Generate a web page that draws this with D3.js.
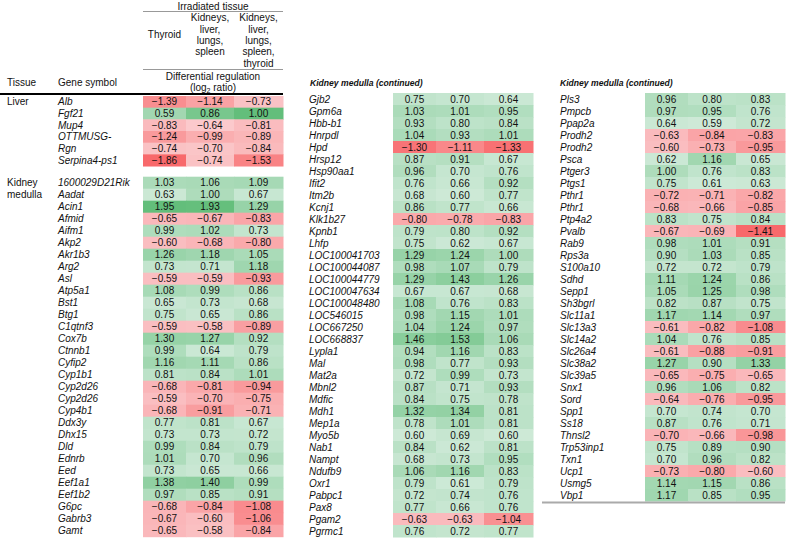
<!DOCTYPE html>
<html><head><meta charset="utf-8">
<script src="https://cdn.jsdelivr.net/npm/d3@7"></script>
<style>
html,body{margin:0;padding:0;background:#fff;}
svg{display:block;font-family:"Liberation Sans",Arial,sans-serif;}
</style></head>
<body><svg id="chart" width="787" height="540"></svg>
<script>
// ---------- DATA ----------
const columnHeaders = [["Thyroid"], ["Kidneys,","liver,","lungs,","spleen"], ["Kidneys,","liver,","lungs,","spleen,","thyroid"]];
const groupHeader = "Irradiated tissue";
const measureHeader = ["Differential regulation", "(log", "2", " ratio)"];

const liverGenes = ["Alb","Fgf21","Mup4","OTTMUSG-","Rgn","Serpina4-ps1"];
const liverValues = [
  [-1.39,-1.14,-0.73],[0.59,0.86,1.00],[-0.83,-0.64,-0.81],
  [-1.24,-0.99,-0.89],[-0.74,-0.70,-0.84],[-1.86,-0.74,-1.53]];

const kidneyGenesA = ["1600029D21Rik","Aadat","Acin1","Afmid","Aifm1","Akp2","Akr1b3","Arg2","Asl","Atp5a1","Bst1","Btg1","C1qtnf3","Cox7b","Ctnnb1","Cyfip2","Cyp1b1","Cyp2d26","Cyp2d26","Cyp4b1","Ddx3y","Dhx15","Dld","Ednrb","Eed","Eef1a1","Eef1b2","G6pc","Gabrb3","Gamt"];
const kidneyValuesA = [
  [1.03,1.06,1.09],[0.63,1.00,0.67],[1.95,1.93,1.29],[-0.65,-0.67,-0.83],[0.99,1.02,0.73],
  [-0.60,-0.68,-0.80],[1.26,1.18,1.05],[0.73,0.71,1.18],[-0.59,-0.59,-0.93],[1.08,0.99,0.86],
  [0.65,0.73,0.68],[0.75,0.65,0.86],[-0.59,-0.58,-0.89],[1.30,1.27,0.92],[0.99,0.64,0.79],
  [1.16,1.11,0.86],[0.81,0.84,1.01],[-0.68,-0.81,-0.94],[-0.59,-0.70,-0.75],[-0.68,-0.91,-0.71],
  [0.77,0.81,0.67],[0.73,0.73,0.72],[0.99,0.84,0.79],[1.01,0.70,0.96],[0.73,0.65,0.66],
  [1.38,1.40,0.99],[0.97,0.85,0.91],[-0.68,-0.84,-1.08],[-0.67,-0.60,-1.06],[-0.65,-0.58,-0.84]];

const kidneyGenesB = ["Gjb2","Gpm6a","Hbb-b1","Hnrpdl","Hpd","Hrsp12","Hsp90aa1","Ifit2","Itm2b","Kcnj1","Klk1b27","Kpnb1","Lhfp","LOC100041703","LOC100044087","LOC100044779","LOC100047634","LOC100048480","LOC546015","LOC667250","LOC668837","Lypla1","Mal","Mat2a","Mbnl2","Mdfic","Mdh1","Mep1a","Myo5b","Nab1","Nampt","Ndufb9","Oxr1","Pabpc1","Pax8","Pgam2","Pgrmc1"];
const kidneyValuesB = [
  [0.75,0.70,0.64],[1.03,1.01,0.95],[0.93,0.80,0.84],[1.04,0.93,1.01],[-1.30,-1.11,-1.33],
  [0.87,0.91,0.67],[0.96,0.70,0.76],[0.76,0.66,0.92],[0.68,0.60,0.77],[0.86,0.77,0.66],
  [-0.80,-0.78,-0.83],[0.79,0.80,0.92],[0.75,0.62,0.67],[1.29,1.24,1.00],[0.98,1.07,0.79],
  [1.29,1.43,1.26],[0.67,0.67,0.68],[1.08,0.76,0.83],[0.98,1.15,1.01],[1.04,1.24,0.97],
  [1.46,1.53,1.06],[0.94,1.16,0.83],[0.98,0.77,0.93],[0.72,0.99,0.73],[0.87,0.71,0.93],
  [0.84,0.75,0.78],[1.32,1.34,0.81],[0.78,1.01,0.81],[0.60,0.69,0.60],[0.84,0.62,0.81],
  [0.68,0.73,0.95],[1.06,1.16,0.83],[0.79,0.61,0.79],[0.72,0.74,0.76],[0.77,0.66,0.76],
  [-0.63,-0.63,-1.04],[0.76,0.72,0.77]];

const kidneyGenesC = ["Pls3","Pmpcb","Ppap2a","Prodh2","Prodh2","Psca","Ptger3","Ptgs1","Pthr1","Pthr1","Ptp4a2","Pvalb","Rab9","Rps3a","S100a10","Sdhd","Sepp1","Sh3bgrl","Slc11a1","Slc13a3","Slc14a2","Slc26a4","Slc38a2","Slc39a5","Snx1","Sord","Spp1","Ss18","Thnsl2","Trp53inp1","Txn1","Ucp1","Usmg5","Vbp1"];
const kidneyValuesC = [
  [0.96,0.80,0.83],[0.97,0.95,0.76],[0.64,0.59,0.72],[-0.63,-0.84,-0.83],[-0.60,-0.73,-0.95],
  [0.62,1.16,0.65],[1.00,0.76,0.83],[0.75,0.61,0.63],[-0.72,-0.71,-0.82],[-0.68,-0.66,-0.85],
  [0.83,0.75,0.84],[-0.67,-0.69,-1.41],[0.98,1.01,0.91],[0.90,1.03,0.85],[0.72,0.72,0.79],
  [1.11,1.24,0.86],[1.05,1.25,0.98],[0.82,0.87,0.75],[1.17,1.14,0.97],[-0.61,-0.82,-1.08],
  [1.04,0.76,0.85],[-0.61,-0.88,-0.91],[1.27,0.90,1.33],[-0.65,-0.75,-0.65],[0.96,1.06,0.82],
  [-0.64,-0.76,-0.95],[0.70,0.74,0.70],[0.87,0.76,0.71],[-0.70,-0.66,-0.98],[0.75,0.89,0.90],
  [0.70,0.96,0.82],[-0.73,-0.80,-0.60],[1.14,1.15,0.86],[1.17,0.85,0.95]];

// ---------- DRAW ----------
const svg = d3.select("#chart");
svg.append("rect").attr("width",787).attr("height",540).attr("fill","#fff");

const RED = "#f8696b", WHITE = "#fcfcff", GREEN = "#63be7b";
function colorScale(values){
  const flat = values.flat();
  return d3.scaleLinear().domain([d3.min(flat),0,d3.max(flat)]).range([RED,WHITE,GREEN]).interpolate(d3.interpolateRgb);
}
const liverColor = colorScale(liverValues);
const kidneyColor = colorScale([kidneyValuesA,kidneyValuesB,kidneyValuesC].flat());

const colX = d3.scaleOrdinal().domain([0,1,2]).range([0,43,91]);
const colW = d3.scaleOrdinal().domain([0,1,2]).range([43,48,49]);
const fmt = d3.format(".2f");

function block(genes, values, geneX, cellX, top, rowH, color){
  const y = d3.scaleBand().domain(d3.range(genes.length)).range([top, top + rowH*genes.length]).padding(0);
  const g = svg.append("g");
  const rows = g.selectAll("g.row").data(genes.map((gname,i)=>({gname,i,vals:values[i]}))).join("g");
  rows.each(function(r){
    const sel = d3.select(this);
    r.vals.forEach((v,j)=>{
      sel.append("rect").attr("x",cellX+colX(j)).attr("y",y(r.i))
        .attr("width",colW(j)+0.5).attr("height",y.bandwidth()+0.5).attr("fill",color(v));
      sel.append("text").attr("x",cellX+colX(j)+colW(j)/2).attr("y",y(r.i)+y.bandwidth()/2+3.6)
        .attr("text-anchor","middle").attr("font-size",10).attr("fill","#111").text(fmt(v).replace("-","-"));
    });
    sel.append("text").attr("x",geneX).attr("y",y(r.i)+y.bandwidth()/2+3.6)
      .attr("font-size",10).attr("font-style","italic").attr("fill","#111").text(r.gname);
  });
  return y;
}

// Left panel
const yLiver = block(liverGenes, liverValues, 58, 143, 96, 11.67, liverColor);
const yKidA = block(kidneyGenesA, kidneyValuesA, 58, 143, 176.7, 12, kidneyColor);
// Middle
block(kidneyGenesB, kidneyValuesB, 309, 393, 93, 12, kidneyColor);
// Right
const yKidC = block(kidneyGenesC, kidneyValuesC, 560, 645, 93, 12, kidneyColor);

// Tissue labels
const tl = (t,x,yy)=>svg.append("text").attr("x",x).attr("y",yy).attr("font-size",10).attr("fill","#111").text(t);
tl("Liver",7,yLiver(0)+yLiver.bandwidth()/2+3.6);
tl("Kidney",7,yKidA(0)+yKidA.bandwidth()/2+3.6);
tl("medulla",7,yKidA(1)+yKidA.bandwidth()/2+3.6);

// Header
const hx0 = 143, hx1 = 283;
svg.append("text").attr("x",(hx0+hx1)/2).attr("y",9.6).attr("text-anchor","middle").attr("font-size",10).attr("fill","#111").text(groupHeader);
svg.append("line").attr("x1",hx0).attr("x2",hx1).attr("y1",11.5).attr("y2",11.5).attr("stroke","#999").attr("stroke-width",1);
const headerTop = [34.7-11.3*0, 17.7, 17.7];
columnHeaders.forEach((lines,j)=>{
  lines.forEach((ln,k)=>{
    svg.append("text").attr("x",hx0+colX(j)+colW(j)/2).attr("y",headerTop[j]+k*11.3+3.6)
      .attr("text-anchor","middle").attr("font-size",10).attr("fill","#111").text(ln);
  });
});
svg.append("line").attr("x1",hx0).attr("x2",hx1).attr("y1",69.5).attr("y2",69.5).attr("stroke","#999").attr("stroke-width",1);
svg.append("text").attr("x",(hx0+hx1)/2).attr("y",79.6).attr("text-anchor","middle").attr("font-size",10).attr("fill","#111").text(measureHeader[0]);
const lg = svg.append("text").attr("x",(hx0+hx1)/2).attr("y",91.2).attr("text-anchor","middle").attr("font-size",10).attr("fill","#111");
lg.append("tspan").text(measureHeader[1]);
lg.append("tspan").attr("font-size",7).attr("dy",2).text(measureHeader[2]);
lg.append("tspan").attr("dy",-2).text(measureHeader[3]);
tl("Tissue",7,85.5);
tl("Gene symbol",58,85.5);
svg.append("line").attr("x1",0).attr("x2",hx1).attr("y1",94).attr("y2",94).attr("stroke","#000").attr("stroke-width",2);

// Continued titles
[[310],[560]].forEach(([x])=>{
  svg.append("text").attr("x",x).attr("y",86.3).attr("font-size",8.6).attr("font-weight","bold").attr("font-style","italic").attr("fill","#111").text("Kidney medulla (continued)");
});

// bottom rule right panel
const yEnd = yKidC.range()[1];
svg.append("line").attr("x1",542).attr("x2",785).attr("y1",yEnd+1.5).attr("y2",yEnd+1.5).attr("stroke","#aaa").attr("stroke-width",2);
</script></body></html>
